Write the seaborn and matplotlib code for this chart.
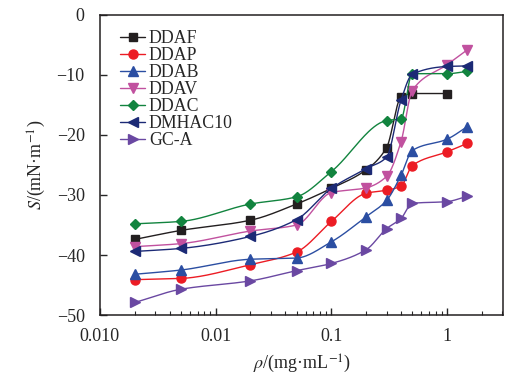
import numpy as np
import pandas as pd
import seaborn as sns
import matplotlib
matplotlib.use('Agg')
import matplotlib.pyplot as plt
from matplotlib.lines import Line2D
from matplotlib.ticker import FixedLocator, FixedFormatter, LogLocator, NullFormatter

# concentration (mg/mL)
conc = [0.002, 0.005, 0.02, 0.05, 0.1, 0.2, 0.3, 0.4, 0.5, 1, 1.5]

# S (mN/m) per surfactant, NaN where no point
ddaf = [-37.4, -35.9, -34.2, -31.5, -28.9, -25.8, -22.1, -13.7, -13.1, -13.1, np.nan]
ddap = [-44.1, -43.9, -41.6, -39.5, -34.4, -29.7, -29.2, -28.5, -25.1, -22.8, -21.4]
ddab = [-43.2, -42.5, -40.7, -40.5, -37.8, -33.6, -30.9, -26.7, -22.6, -20.7, -18.6]
ddav = [-38.6, -38.1, -36.0, -35.0, -29.6, -28.8, -26.9, -21.1, -12.6, -8.3, -5.8]
ddac = [-34.8, -34.4, -31.5, -30.3, -26.1, np.nan, -17.6, -17.3, -9.8, -9.8, -9.4]
dmhac10 = [-39.4, -38.9, -36.9, -34.1, -28.9, -25.6, -23.7, -14.2, -9.9, -8.6, -8.5]
gca = [-47.9, -45.7, -44.3, -42.6, -41.4, -39.1, -35.6, -33.9, -31.4, -31.1, -30.2]

names = ['DDAF', 'DDAP', 'DDAB', 'DDAV', 'DDAC', 'DMHAC10', 'GC-A']
values = [ddaf, ddap, ddab, ddav, ddac, dmhac10, gca]
colors = ['#231f20', '#ec1c24', '#2b4ea2', '#c1519f', '#12843f', '#1c2a76', '#6a48a2']
markers = ['s', 'o', '^', 'v', 'D', '<', '>']
msizes = [5.5, 6.5, 7, 7, 5.5, 7, 7]

xtick_vals = [0.001, 0.01, 0.1, 1]
xtick_labels = ['0.010', '0.01', '0.1', '1']


def smooth(x, y, n=40):
    # monotone cubic (Fritsch-Carlson) in log-x, just for drawing the connecting curve
    t = np.log10(x)
    h = np.diff(t)
    d = np.diff(y) / h
    m = np.zeros_like(y)
    m[0], m[-1] = d[0], d[-1]
    for i in range(1, len(y) - 1):
        if d[i - 1] * d[i] > 0:
            w1 = 2 * h[i] + h[i - 1]
            w2 = h[i] + 2 * h[i - 1]
            m[i] = (w1 + w2) / (w1 / d[i - 1] + w2 / d[i])
    ts, ys = [], []
    for i in range(len(t) - 1):
        s = np.linspace(0, 1, n, endpoint=False)
        h00 = 2 * s**3 - 3 * s**2 + 1
        h10 = s**3 - 2 * s**2 + s
        h01 = -2 * s**3 + 3 * s**2
        h11 = s**3 - s**2
        ts.append(t[i] + s * h[i])
        ys.append(h00 * y[i] + h10 * h[i] * m[i] + h01 * y[i + 1] + h11 * h[i] * m[i + 1])
    ts.append([t[-1]])
    ys.append([y[-1]])
    return 10 ** np.concatenate(ts), np.concatenate(ys)


sns.set_style('ticks')
plt.rcParams['font.family'] = ['Liberation Serif', 'DejaVu Serif']
plt.rcParams['mathtext.fontset'] = 'stix'

fig = plt.figure(figsize=(5.15, 3.81), dpi=100)
ax = fig.add_axes([0.194, 0.173, 0.783, 0.788])

handles = []
for name, vals, c, mk, ms in zip(names, values, colors, markers, msizes):
    df = pd.DataFrame({'x': conc, 'y': vals}).dropna()
    xs, ys = smooth(df['x'].to_numpy(float), df['y'].to_numpy(float))
    sns.lineplot(x=xs, y=ys, ax=ax, color=c, lw=1.0, sort=False, estimator=None)
    ax.plot(df['x'], df['y'], ls='none', marker=mk, ms=ms, color=c, mec=c)
    handles.append(Line2D([], [], color=c, lw=1.0, marker=mk, ms=ms))

ax.set_xscale('log')
ax.set_xlim(0.001, 3.05)
ax.set_ylim(-50, 0)
ax.xaxis.set_major_locator(FixedLocator(xtick_vals))
ax.xaxis.set_major_formatter(FixedFormatter(xtick_labels))
ax.xaxis.set_minor_locator(LogLocator(base=10, subs=np.arange(2, 10)))
ax.xaxis.set_minor_formatter(NullFormatter())
ax.set_yticks([0, -10, -20, -30, -40, -50])
ax.tick_params(direction='in', labelsize=13, width=1, length=5)
ax.tick_params(axis='x', pad=9)
ax.tick_params(axis='y', pad=11)
ax.tick_params(which='minor', direction='in', length=3, width=0.8)
for sp in ax.spines.values():
    sp.set_linewidth(1.1)
    sp.set_color('#231f20')

ax.set_xlabel(r'$\rho$/(mg·mL$^{-1}$)', fontsize=13, labelpad=6)
ax.set_ylabel(r'$S$/(mN·m$^{-1}$)', fontsize=13, labelpad=6)

ax.legend(handles, names, loc='upper left', frameon=False, fontsize=12.8,
          labelspacing=0.0, handlelength=1.4, handletextpad=0.2,
          borderaxespad=0.3, bbox_to_anchor=(0.02, 0.99))

fig.savefig('out.png', dpi=100)
